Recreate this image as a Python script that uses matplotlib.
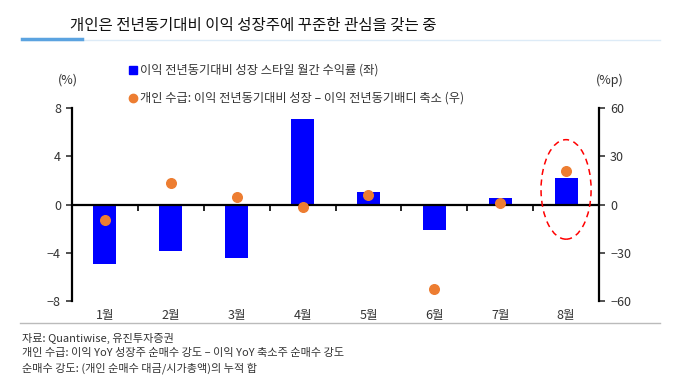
import matplotlib.pyplot as plt
from matplotlib.patches import Ellipse
from matplotlib.lines import Line2D
from matplotlib.markers import TICKDOWN

plt.rcParams['font.family'] = ['Noto Sans CJK KR', 'DejaVu Sans']

months = ['1월', '2월', '3월', '4월', '5월', '6월', '7월', '8월']
style_return = [-4.95, -3.85, -4.4, 7.1, 1.0, -2.1, 0.5, 2.2]
retail_flow = [-9.5, 13.5, 4.5, -1.5, 5.6, -52.5, 0.8, 21.0]
left_ticks = [-8, -4, 0, 4, 8]
right_ticks = [-60, -30, 0, 30, 60]

bar_color = '#0000FF'
dot_color = '#ED7D31'

fig = plt.figure(figsize=(6.8, 3.83), dpi=100)
ax = fig.add_axes([72/680, 1-301/383, (599-72)/680, (301-108)/383])
x = list(range(len(months)))

ax.bar(x, style_return, width=0.35, color=bar_color, zorder=2)
ax.set_xlim(-0.5, len(months)-0.5)
ax.set_ylim(-8, 8)
ax.set_yticks(left_ticks)
ax.set_yticklabels(['−8', '−4', '0', '4', '8'])
ax.tick_params(axis='y', direction='out', length=4, width=1.2, labelsize=9, colors='#333333', pad=4)
ax.tick_params(axis='x', length=0, labelsize=9, colors='#333333', pad=6)
ax.set_xticks(x)
ax.set_xticklabels(months)
for s in ['top', 'right', 'bottom']:
    ax.spines[s].set_visible(False)
ax.spines['left'].set_linewidth(1.6)
ax.axhline(0, color='black', lw=1.6, zorder=3)
bounds = [i + 0.5 for i in x[:-1]]
ax.plot(bounds, [0]*len(bounds), ls='none', marker=TICKDOWN, ms=4, mew=1.2, color='black', zorder=3)

ax2 = ax.twinx()
ax2.scatter(x, retail_flow, s=48, color=dot_color, zorder=4)
ax2.set_ylim(-60, 60)
ax2.set_yticks(right_ticks)
ax2.set_yticklabels(['−60', '−30', '0', '30', '60'])
ax2.tick_params(axis='y', direction='out', length=4, width=1.2, labelsize=9, colors='#333333', pad=4)
for s in ['top', 'left', 'bottom']:
    ax2.spines[s].set_visible(False)
ax2.spines['right'].set_linewidth(1.6)

ell = Ellipse((7, 1.25), width=0.76, height=8.25, fill=False, ec='#FF0000', ls=(0, (4, 3)), lw=1.1, zorder=5)
ax.add_patch(ell)

# axis units
fig.text(68/680, 1-80/383, '(%)', fontsize=9, color='#333333', ha='center', va='center')
fig.text(610/680, 1-80/383, '(%p)', fontsize=9, color='#333333', ha='center', va='center')

# legend
fig.add_artist(Line2D([133/680], [1-70/383], marker='s', ms=6, color=bar_color, ls='none', transform=fig.transFigure))
fig.text(140/680, 1-70/383, '이익 전년동기대비 성장 스타일 월간 수익률 (좌)', fontsize=8.8, color='#333333', va='center')
fig.add_artist(Line2D([133/680], [1-98/383], marker='o', ms=6, color=dot_color, ls='none', transform=fig.transFigure))
fig.text(140/680, 1-98/383, '개인 수급: 이익 전년동기대비 성장 – 이익 전년동기배디 축소 (우)', fontsize=8.8, color='#333333', va='center')

# title and decoration
fig.text(70/680, 1-25/383, '개인은 전년동기대비 이익 성장주에 꾸준한 관심을 갖는 중', fontsize=11.2, color='#111111', va='center')
fig.add_artist(Line2D([22/680, 660/680], [1-40/383, 1-40/383], color='#DDEBF7', lw=1, transform=fig.transFigure))
fig.add_artist(Line2D([22/680, 82/680], [1-39/383, 1-39/383], color='#5BA3E0', lw=2.5, transform=fig.transFigure))

# footer
fig.add_artist(Line2D([20/680, 660/680], [1-323/383, 1-323/383], color='#BBBBBB', lw=1, transform=fig.transFigure))
notes = ['자료: Quantiwise, 유진투자증권',
         '개인 수급: 이익 YoY 성장주 순매수 강도 – 이익 YoY 축소주 순매수 강도',
         '순매수 강도: (개인 순매수 대금/시가총액)의 누적 합']
for i, n in enumerate(notes):
    fig.text(22/680, 1-(338+15*i)/383, n, fontsize=8, color='#333333', va='center')

fig.savefig('out.png', dpi=100)
